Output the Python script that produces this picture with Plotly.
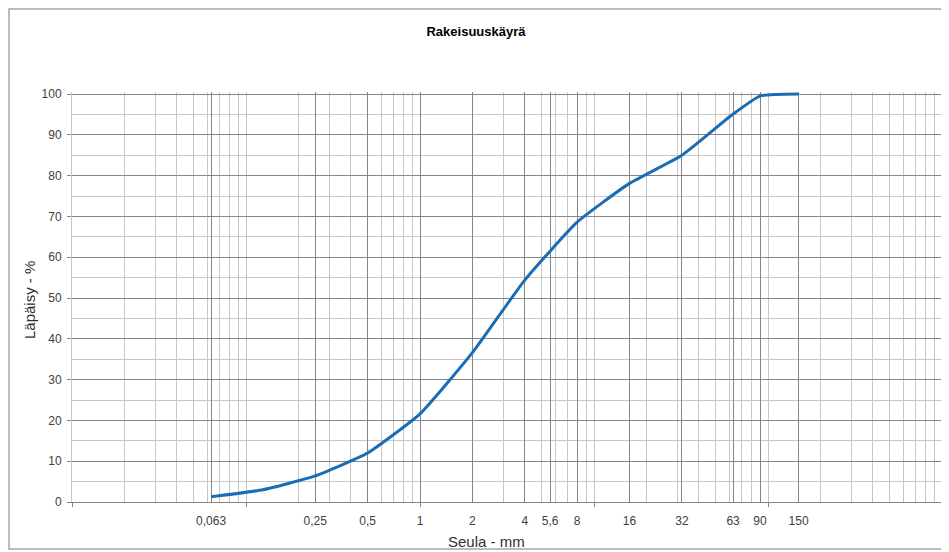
import plotly.graph_objects as go

# ---- data ----
sieve_mm = [0.063, 0.125, 0.25, 0.5, 1, 2, 4, 8, 16, 32, 63, 90, 150]
passing_pct = [1.3, 3.0, 6.4, 12.0, 21.6, 36.6, 54.4, 68.6, 78.1, 85.0, 95.1, 99.5, 100.0]

tick_vals = [0.063, 0.25, 0.5, 1, 2, 4, 5.6, 8, 16, 32, 63, 90, 150]
tick_text = ["0,063", "0,25", "0,5", "1", "2", "4", "5,6", "8", "16", "32", "63", "90", "150"]
decades = [0.01, 0.1, 1, 10, 100, 1000]
log_minor = [k * d for d in decades[:-1] for k in range(1, 10)] + [1000]

title_text = "Rakeisuuskäyrä"
x_title = "Seula - mm"
y_title = "Läpäisy - %"

FONT = "Liberation Sans Narrow, Arial Narrow, Liberation Sans, Arial, sans-serif"
DARK = "#858585"
LIGHT = "#c6c6c6"

OFF = 8  # page body margin of the html page
W, H = 949 - OFF, 552 - OFF
L, T = 72 - OFF, 92 - OFF
R = W - (942 - OFF)
B = H - (502 - OFF)
PW, PH = W - L - R, H - T - B

def px(sx):
    return (sx - OFF - L) / PW

def py(sy):
    return (H - B - (sy - OFF)) / PH

fig = go.Figure()

# invisible helper trace for decade tick axis
fig.add_trace(go.Scatter(x=sieve_mm, y=passing_pct, xaxis="x2", mode="lines",
                         line=dict(width=0), opacity=0, hoverinfo="skip", showlegend=False))

fig.add_trace(go.Scatter(
    x=sieve_mm, y=passing_pct, mode="lines",
    line=dict(color="#1a6db5", width=3, shape="spline", smoothing=0.45),
    showlegend=False,
))

fig.update_layout(
    width=W, height=H,
    margin=dict(l=L, r=R, t=T, b=B, autoexpand=False),
    paper_bgcolor="white", plot_bgcolor="white",
    showlegend=False,
    title=dict(text="<b>" + title_text + "</b>", x=(476 - OFF) / W, xref="container", xanchor="center",
               y=1 - (31 - OFF) / H, yref="container", yanchor="middle",
               font=dict(family="Liberation Sans, Arial, sans-serif", size=13, color="black")),
    xaxis=dict(
        type="log", range=[-2, 3],
        tickmode="array", tickvals=tick_vals, ticktext=tick_text,
        ticks="", showgrid=True, gridcolor=DARK, gridwidth=1,
        showline=True, linecolor=DARK, linewidth=1,
        tickfont=dict(family=FONT, size=12, color="#404040"),
        ticklabelstandoff=8,
        minor=dict(tickmode="array", tickvals=log_minor, showgrid=True,
                   gridcolor=LIGHT, gridwidth=1, ticks=""),
        zeroline=False,
    ),
    xaxis2=dict(
        type="log", range=[-2, 3], overlaying="x", side="bottom", anchor="y",
        tickmode="array", tickvals=decades, ticks="outside", ticklen=4,
        tickcolor=DARK, showticklabels=False, showgrid=False, showline=False,
    ),
    yaxis=dict(
        range=[0, 100.5], tickmode="linear", tick0=0, dtick=10,
        ticks="outside", ticklen=4, tickcolor=DARK,
        showgrid=True, gridcolor=DARK, gridwidth=1,
        showline=True, linecolor=LIGHT, linewidth=1, mirror=True,
        tickfont=dict(family=FONT, size=12, color="#404040"),
        ticklabelstandoff=3,
        minor=dict(dtick=5, tick0=0, showgrid=True, gridcolor=LIGHT, gridwidth=1, ticks=""),
        zeroline=False,
    ),
    annotations=[
        dict(text=x_title, x=px(486), y=py(541), xref="paper", yref="paper",
             xanchor="center", yanchor="middle", showarrow=False,
             font=dict(family="Liberation Sans, Arial, sans-serif", size=15, color="#303030")),
        dict(text=y_title, x=px(29), y=py(300), xref="paper", yref="paper",
             xanchor="center", yanchor="middle", showarrow=False, textangle=-90,
             font=dict(family="Liberation Sans, Arial, sans-serif", size=15, color="#303030")),
    ],
    shapes=[
        dict(type="rect", xref="paper", yref="paper",
             x0=px(9), x1=px(947), y0=py(549), y1=py(9),
             line=dict(color="#a6a6a6", width=1.5), fillcolor="rgba(0,0,0,0)", layer="below"),
    ],
)

fig.write_html("out.html")
